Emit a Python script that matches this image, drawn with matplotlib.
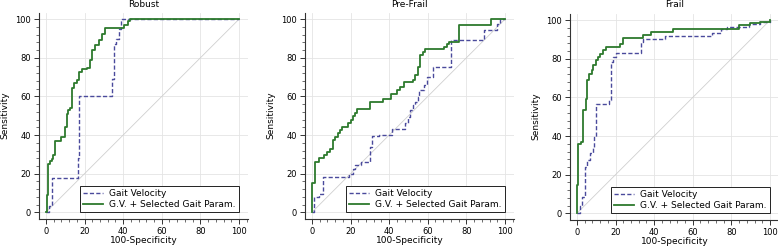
import matplotlib
matplotlib.use("Agg")
import matplotlib.pyplot as plt
from matplotlib.ticker import MultipleLocator

plt.rcParams['font.family'] = ['DejaVu Sans']

titles = ["Robust", "Pre-Frail", "Frail"]
legend_labels = ["Gait Velocity", "G.V. + Selected Gait Param."]

# ROC corner points (100-Specificity, Sensitivity), drawn as steps-post
robust_gv_x = [0, 1.5, 3, 16.5, 17, 34, 35, 36.5, 38, 39, 100]
robust_gv_y = [0, 3, 18, 28, 60, 69, 87, 90, 95, 100, 100]
robust_comb_x = [0, 0.5, 1.2, 2.1, 2.9, 3.8, 4.9, 7.8, 9.9, 10.8, 11.6, 12.5, 13.5, 14.6,
                 16.3, 17.3, 18.5, 21.1, 22.9, 24.1, 25.5, 27.7, 28.9, 30.7, 40.2, 42.3, 43.3, 100]
robust_comb_y = [0, 9, 25, 26.5, 27.5, 29.5, 37, 39, 44, 51, 53, 54, 64.5, 67,
                 68.5, 72.5, 74, 75, 79, 84, 86.5, 89, 92.5, 95.5, 97, 99, 100, 100]

prefrail_gv_x = [0, 1, 3.8, 5.5, 19.3, 21.1, 22.4, 25.4, 29.9, 31.1, 34.6, 41.5, 48.4, 49.8,
                 51, 52.2, 53.6, 55, 55.4, 58, 59.7, 62.5, 71.8, 89.1, 96, 97.6, 100]
prefrail_gv_y = [0, 8, 9.7, 18.3, 20, 22.6, 24.4, 26.2, 34, 39.4, 40, 43.4, 46, 49.4,
                 52.8, 55.4, 57.2, 59.8, 63.2, 65.8, 70.1, 75.3, 89.5, 94.3, 97.8, 100, 100]
prefrail_comb_x = [0, 0, 1.5, 3.8, 6.4, 7.6, 9.3, 10.7, 11.9, 13.6, 14.7, 15.5, 18.5, 20.2,
                   21.4, 22.4, 23.3, 30.3, 36.7, 40.7, 44.1, 45.8, 47.6, 52.4, 53.6, 55, 56.2,
                   57.4, 58.8, 68.3, 70, 71.1, 76.3, 93, 100]
prefrail_comb_y = [0, 15, 26, 28, 29.5, 31.3, 33, 37.3, 39, 41, 42.5, 44.2, 46, 47.7,
                   50, 51.5, 53.3, 57.2, 58.5, 61.5, 63.2, 65, 67.5, 68.5, 71, 75.3, 81.3,
                   83, 84.8, 85.7, 87, 88, 97, 100, 100]

frail_gv_x = [0, 1.5, 2.4, 4.1, 5, 6.7, 8.1, 8.8, 9.8, 16.8, 17.5, 18.8, 20.2, 33, 34,
              45.6, 69.8, 74.5, 78, 89, 95, 100]
frail_gv_y = [0, 4, 8.4, 24, 27.5, 31, 34.5, 39.5, 56.8, 58.5, 78.4, 81, 83, 88.8, 90.5,
              91.7, 93.4, 95.5, 96.7, 98.3, 99.2, 100]
frail_comb_x = [0, 0.2, 0.7, 1.9, 3.3, 4.7, 5.4, 6.4, 7.6, 8.5, 9.8, 11, 11.9, 13.6, 15,
                22.3, 24, 34, 38.3, 49.8, 84, 89.6, 95, 100]
frail_comb_y = [0, 14.5, 36, 37, 53.5, 59, 69, 72.3, 74, 76.6, 79.2, 81, 82.6, 84.4, 86.1,
                87.9, 91, 92.4, 93.8, 95.7, 97.4, 98.6, 99.3, 100]

panels = [
    (robust_gv_x, robust_gv_y, robust_comb_x, robust_comb_y),
    (prefrail_gv_x, prefrail_gv_y, prefrail_comb_x, prefrail_comb_y),
    (frail_gv_x, frail_gv_y, frail_comb_x, frail_comb_y),
]

W, H = 778, 247
fig = plt.figure(figsize=(W / 100, H / 100), dpi=100)

XL = (-3.5, 104.5)
YL = (-3.3, 103.4)
ppu = 1.93
aw = (XL[1] - XL[0]) * ppu
ah = (YL[1] - YL[0]) * ppu
lefts = [39.2, 305.2, 570.2]
tops = [12.7, 12.7, 13.7]

green = '#2d7a2d'
blue = '#4a4a9c'

for i, (gx, gy, cx, cy) in enumerate(panels):
    l, t = lefts[i], tops[i]
    ax = fig.add_axes([l / W, 1 - (t + ah) / H, aw / W, ah / H])
    ax.set_xlim(*XL)
    ax.set_ylim(*YL)
    ax.plot([0, 100], [0, 100], color='#cfcfcf', lw=0.6, zorder=1)
    lg, = ax.plot(gx, gy, drawstyle='steps-post', color=blue, lw=1.0,
                  dashes=(3, 1.6), zorder=3)
    lc, = ax.plot(cx, cy, drawstyle='steps-post', color=green, lw=1.3, zorder=4)
    lg.set_label(legend_labels[0])
    lc.set_label(legend_labels[1])
    for s in ['top', 'right']:
        ax.spines[s].set_visible(False)
    for s in ['left', 'bottom']:
        ax.spines[s].set_color('#333333')
        ax.spines[s].set_linewidth(0.8)
    ax.xaxis.set_major_locator(MultipleLocator(20))
    ax.yaxis.set_major_locator(MultipleLocator(20))
    ax.xaxis.set_minor_locator(MultipleLocator(4))
    ax.yaxis.set_minor_locator(MultipleLocator(4))
    ax.tick_params(which='major', direction='out', length=3.5, width=0.7,
                   labelsize=6, pad=2.5, color='#333333')
    ax.tick_params(which='minor', direction='out', length=2, width=0.5, color='#333333')
    ax.grid(True, which='major', color='#e4e4e4', lw=0.6, zorder=0)
    ax.set_axisbelow(True)
    ax.set_xlabel("100-Specificity", fontsize=6.5)
    ax.set_ylabel("Sensitivity", fontsize=6.5)
    ax.xaxis.set_label_coords(0.5, -22 / ah)
    ax.xaxis.label.set_va('center')
    ax.yaxis.set_label_coords(-34 / aw, 0.5)
    ax.yaxis.label.set_va('center')
    ax.yaxis.label.set_ha('center')
    ax.text(0.5, 1 + (t - 4.5) / ah, titles[i], transform=ax.transAxes,
            ha='center', va='center', fontsize=6.5)
    leg = ax.legend(handles=[lg, lc], loc='lower right', bbox_to_anchor=(100, 0),
                    bbox_transform=ax.transData, borderaxespad=0, fontsize=6.5,
                    fancybox=False, framealpha=1, edgecolor='#222222',
                    handlelength=2.2, handletextpad=0.7, borderpad=0.35,
                    labelspacing=0.25)
    leg.get_frame().set_linewidth(0.7)
    leg.set_zorder(5)

fig.savefig("out.png", dpi=100)
